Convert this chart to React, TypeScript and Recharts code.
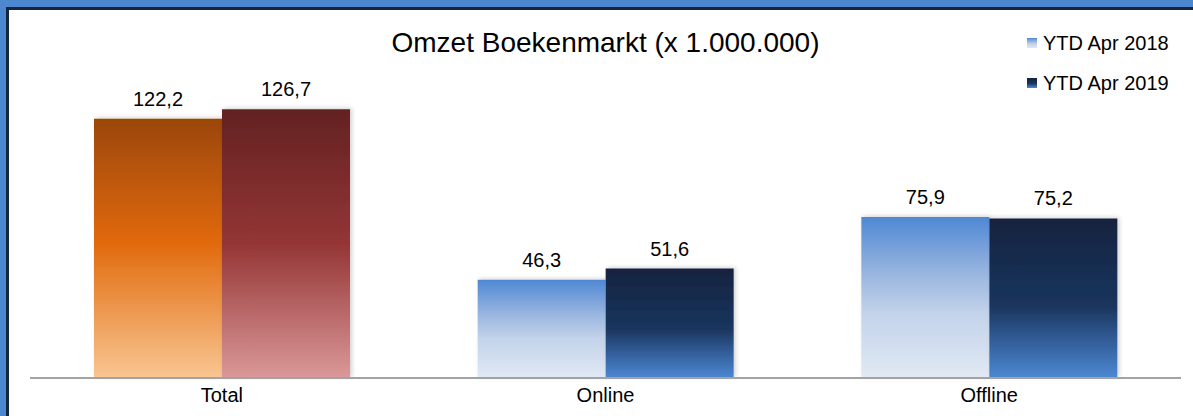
import { BarChart, Bar, XAxis, YAxis, Legend, LabelList, Cell } from "recharts";

// Omzet boekenmarkt, YTD april (x 1.000.000)
const CATEGORIES = ["Total", "Online", "Offline"];
const YTD_2018 = [122.2, 46.3, 75.9];
const YTD_2019 = [126.7, 51.6, 75.2];
const SERIES = ["YTD Apr 2018", "YTD Apr 2019"];

const data = CATEGORIES.map((cat, i) => ({
  cat,
  y2018: YTD_2018[i],
  y2019: YTD_2019[i],
}));

const FONT = "'Liberation Sans', Arial, sans-serif";
const fmt = (v: any) => Number(v).toFixed(1).replace(".", ",");

// css versions of the blue gradients for the legend swatches
const SWATCH: Record<string, string> = {
  y2018: "linear-gradient(#4f88d4, #99b5df 35%, #c3d3ea 60%, #e1e9f4)",
  y2019: "linear-gradient(#13233f, #1a355d 55%, #2b5187 70%, #4c88d3)",
};

function LegendBox({ payload }: any) {
  return (
    <div style={{ fontFamily: FONT, fontSize: 20, color: "#000" }}>
      {(payload || []).map((p: any) => (
        <div key={p.value} style={{ display: "flex", alignItems: "center", height: 40 }}>
          <span style={{ width: 10, height: 10, marginRight: 6, background: SWATCH[p.dataKey] }} />
          <span>{p.value}</span>
        </div>
      ))}
    </div>
  );
}

export default function App() {
  return (
    <div style={{ position: "absolute", left: 0, top: 0, width: 1193, height: 416, background: "#4d87d0", overflow: "hidden" }}>
      <div style={{
        position: "absolute", left: 6, top: 7, width: 1200, height: 420, background: "#fff",
        borderLeft: "3px solid #17253d", borderTop: "3px solid #17253d",
      }} />
      <div style={{
        position: "absolute", left: 30, top: 29, width: 1151, textAlign: "center",
        fontFamily: FONT, fontSize: 28, lineHeight: "28px", color: "#000",
      }}>
        Omzet Boekenmarkt (x 1.000.000)
      </div>
      <div style={{ position: "absolute", left: 0, top: 0 }}>
        <BarChart width={1193} height={416} data={data} barSize={128} barGap={0}
          margin={{ top: 81, right: 12, bottom: 8, left: 30 }}>
          <defs>
            <linearGradient id="gOrange" x1="0" y1="0" x2="0" y2="1">
              <stop offset="0" stopColor="#9b4706" />
              <stop offset="0.47" stopColor="#e0680a" />
              <stop offset="1" stopColor="#f9c692" />
            </linearGradient>
            <linearGradient id="gMaroon" x1="0" y1="0" x2="0" y2="1">
              <stop offset="0" stopColor="#632222" />
              <stop offset="0.5" stopColor="#943535" />
              <stop offset="1" stopColor="#db9898" />
            </linearGradient>
            <linearGradient id="gLight" x1="0" y1="0" x2="0" y2="1">
              <stop offset="0" stopColor="#4f88d4" />
              <stop offset="0.35" stopColor="#99b5df" />
              <stop offset="0.6" stopColor="#c3d3ea" />
              <stop offset="1" stopColor="#e1e9f4" />
            </linearGradient>
            <linearGradient id="gDark" x1="0" y1="0" x2="0" y2="1">
              <stop offset="0" stopColor="#13233f" />
              <stop offset="0.55" stopColor="#1a355d" />
              <stop offset="0.7" stopColor="#2b5187" />
              <stop offset="1" stopColor="#4c88d3" />
            </linearGradient>
            <filter id="shade" x="-10%" y="-10%" width="120%" height="120%">
              <feDropShadow dx="2" dy="-1" stdDeviation="2" floodColor="#000" floodOpacity="0.18" />
            </filter>
          </defs>
          <XAxis dataKey="cat" height={30} tickLine={false} tickMargin={4}
            axisLine={{ stroke: "#a3a3a3", strokeWidth: 2 }}
            tick={{ fontSize: 20, fill: "#000", fontFamily: FONT }} />
          <YAxis hide domain={[0, 140]} />
          {/* middle + center: legend floats without taking space from the plot */}
          <Legend content={<LegendBox />} layout="horizontal" verticalAlign="middle" align="center"
            wrapperStyle={{ left: 1027, top: 23, width: 160 }} />
          <Bar dataKey="y2018" name={SERIES[0]} fill="url(#gLight)" filter="url(#shade)" isAnimationActive={false}>
            {data.map((d) => (
              <Cell key={d.cat} fill={d.cat === "Total" ? "url(#gOrange)" : "url(#gLight)"} />
            ))}
            <LabelList dataKey="y2018" position="top" offset={13} formatter={fmt}
              style={{ fontSize: 20, fill: "#000", fontFamily: FONT }} />
          </Bar>
          <Bar dataKey="y2019" name={SERIES[1]} fill="url(#gDark)" filter="url(#shade)" isAnimationActive={false}>
            {data.map((d) => (
              <Cell key={d.cat} fill={d.cat === "Total" ? "url(#gMaroon)" : "url(#gDark)"} />
            ))}
            <LabelList dataKey="y2019" position="top" offset={13} formatter={fmt}
              style={{ fontSize: 20, fill: "#000", fontFamily: FONT }} />
          </Bar>
        </BarChart>
      </div>
    </div>
  );
}
